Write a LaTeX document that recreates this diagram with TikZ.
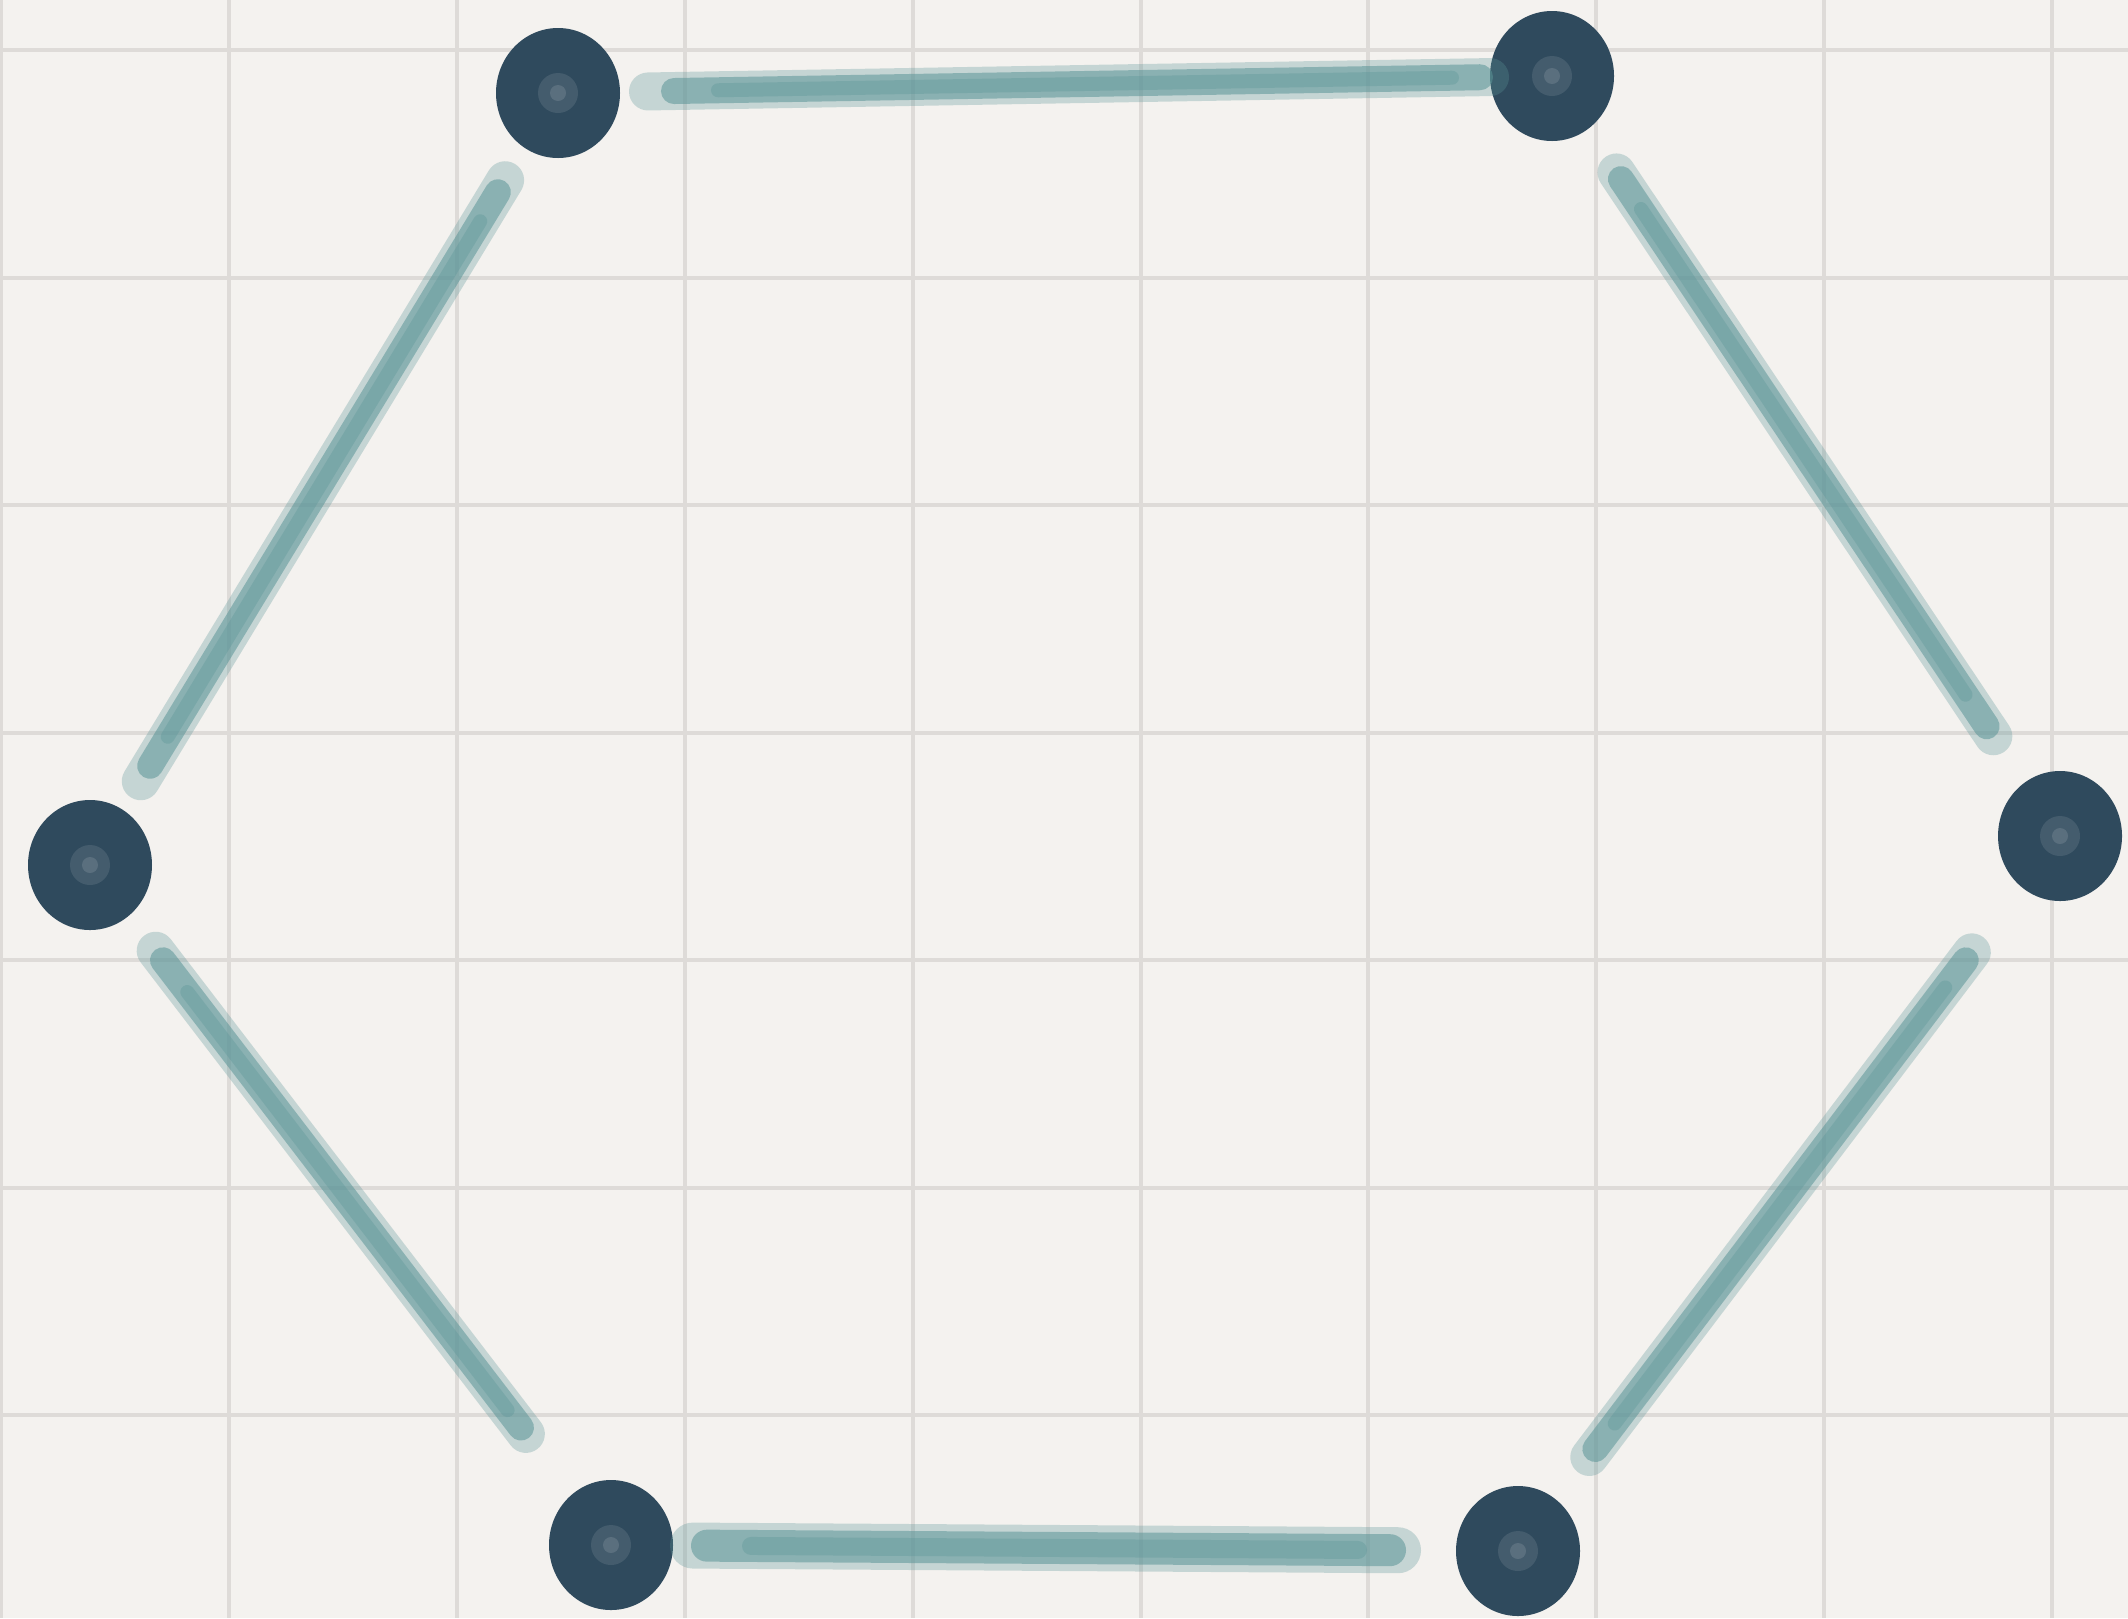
\documentclass[tikz,border=0pt]{standalone}
\usetikzlibrary{shapes.geometric}
\definecolor{paper}{HTML}{F4F2EF}
\definecolor{gridc}{HTML}{DEDBD8}
\definecolor{dotc}{HTML}{2F4A5D}
\definecolor{chalk}{HTML}{5B9597}
\begin{document}
\begin{tikzpicture}[x=0.5pt,y=-0.5pt,
  dotnode/.style={ellipse,fill=dotc,minimum width=62pt,minimum height=65pt,inner sep=0pt},
  chalka/.style={line width=19pt,line cap=round,draw=chalk,opacity=0.3},
  chalkb/.style={line width=13pt,line cap=round,draw=chalk,opacity=0.55},
  chalkc/.style={line width=7pt,line cap=round,draw=chalk,opacity=0.35},
  gridline/.style={draw=gridc,line width=2pt}]
\fill[paper] (0,0) rectangle (2128,1618);
\useasboundingbox (0,0) rectangle (2128,1618);
\foreach \gx in {1,228.9,456.8,684.7,912.6,1140.5,1368.4,1596.3,1824.2,2052.1} {\draw[gridline] (\gx,0) -- (\gx,1618);}
\foreach \gy in {50,278,505,733,960,1188,1415} {\draw[gridline] (0,\gy) -- (2128,\gy);}
% dots
\node[dotnode] (TL) at (558,93) {};
\node[dotnode] (TR) at (1552,76) {};
\node[dotnode] (R) at (2060,836) {};
\node[dotnode] (BR) at (1518,1551) {};
\node[dotnode] (BL) at (611,1545) {};
\node[dotnode] (L) at (90,865) {};
\foreach \n in {TL,TR,R,BR,BL,L} {
  \fill[white,opacity=0.10] (\n.center) circle (10pt);
  \fill[white,opacity=0.12] (\n.center) circle (4pt);}
% edges
\draw[chalka,shorten <=45pt,shorten >=31pt] (TL.center) -- (TR.center);
\draw[chalkb,shorten <=58pt,shorten >=36pt] (TL.center) -- (TR.center);
\draw[chalkc,shorten <=80pt,shorten >=50pt] (TL.center) -- (TR.center);
\draw[chalka,shorten <=51pt,shorten >=49pt] (TL.center) -- (L.center);
\draw[chalkb,shorten <=58pt,shorten >=58pt] (TL.center) -- (L.center);
\draw[chalkc,shorten <=75pt,shorten >=75pt] (TL.center) -- (L.center);
\draw[chalka,shorten <=54pt,shorten >=70pt] (L.center) -- (BL.center);
\draw[chalkb,shorten <=60pt,shorten >=74pt] (L.center) -- (BL.center);
\draw[chalkc,shorten <=80pt,shorten >=85pt] (L.center) -- (BL.center);
\draw[chalka,line width=23pt,shorten <=41pt,shorten >=60pt] (BL.center) -- (BR.center);
\draw[chalkb,line width=16pt,shorten <=48pt,shorten >=64pt] (BL.center) -- (BR.center);
\draw[chalkc,line width=9pt,shorten <=70pt,shorten >=80pt] (BL.center) -- (BR.center);
\draw[chalka,shorten <=59pt,shorten >=73pt] (BR.center) -- (R.center);
\draw[chalkb,shorten <=64pt,shorten >=78pt] (BR.center) -- (R.center);
\draw[chalkc,shorten <=80pt,shorten >=95pt] (BR.center) -- (R.center);
\draw[chalka,shorten <=60pt,shorten >=58pt] (R.center) -- (TR.center);
\draw[chalkb,shorten <=66pt,shorten >=62pt] (R.center) -- (TR.center);
\draw[chalkc,shorten <=85pt,shorten >=80pt] (R.center) -- (TR.center);
\end{tikzpicture}
\end{document}
